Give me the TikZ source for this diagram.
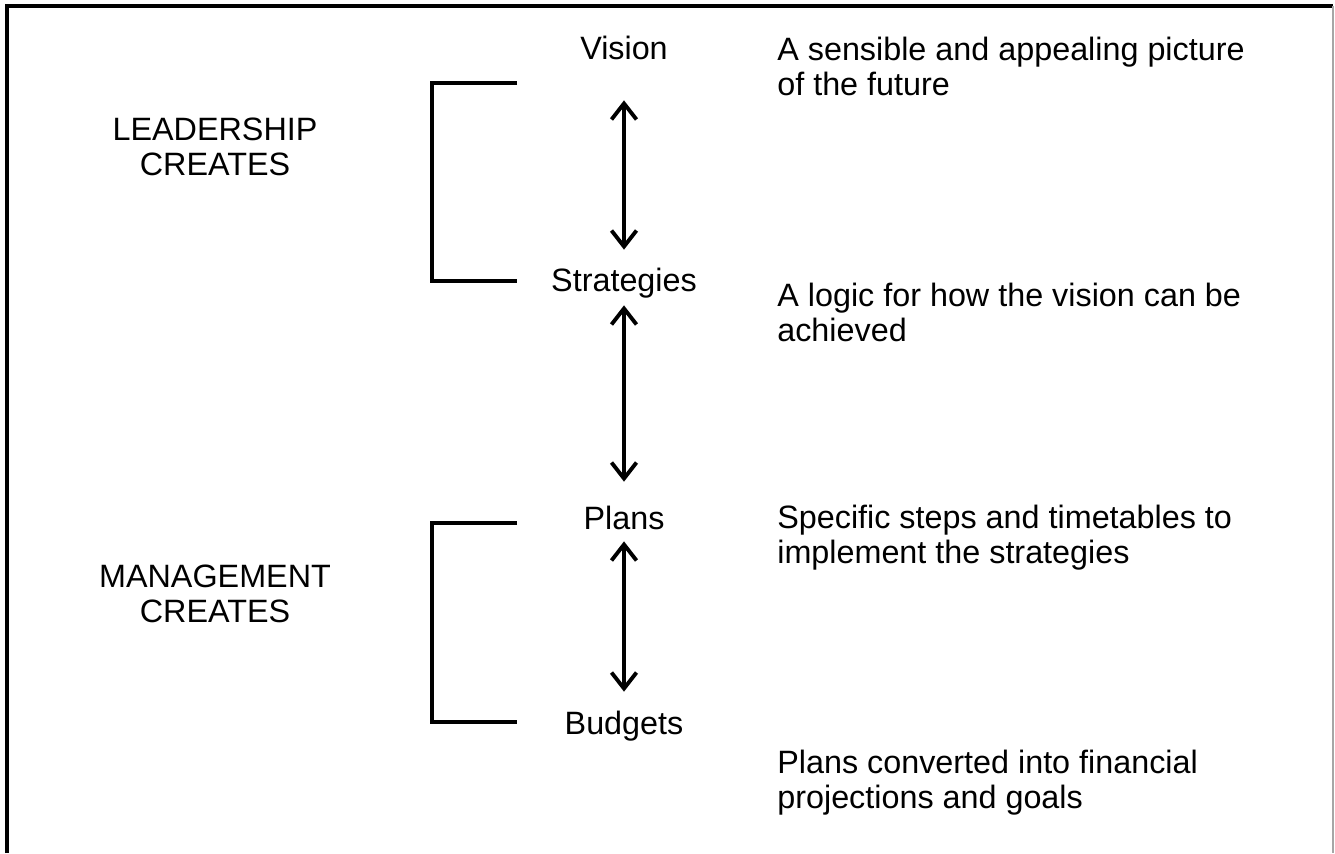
\documentclass[tikz,border=0pt]{standalone}
\usepackage{fontspec}
\setmainfont{Liberation Sans}
\usetikzlibrary{arrows.meta}
\begin{document}
\begin{tikzpicture}[x=0.02cm, y=-0.02cm,
    every node/.style={font=\fontsize{18.4}{19.9}\selectfont, inner sep=0pt},
    term/.style={text height=0.48cm, text depth=0.14cm},
    note/.style={anchor=west, align=left},
    bracket/.style={line width=2.2pt},
    link/.style={{Straight Barb[length=0.32cm,width=0.5cm]}-{Straight Barb[length=0.32cm,width=0.5cm]},
                 line width=2.2pt}]

    % Fix the page size
    \useasboundingbox (0,0) rectangle (1335,853);

    % Frame (top and left heavy, right thin)
    \draw[line width=2.2pt] (7,853) -- (7,6) -- (1333,6);
    \draw[black!35, line width=0.6pt] (1333,6) -- (1333,853);

    % The four terms in the middle column
    \node[term] (vision)     at (624,51)  {Vision};
    \node[term] (strategies) at (624,283) {Strategies};
    \node[term] (plans)      at (624,521) {Plans};
    \node[term] (budgets)    at (624,726) {Budgets};

    % Double arrows between the terms
    \draw[link, shorten <=0.67cm, shorten >=0.35cm] (vision) -- (strategies);
    \draw[link, shorten <=0.13cm, shorten >=0.47cm] (strategies) -- (plans);
    \draw[link, shorten <=0.09cm, shorten >=0.37cm] (plans) -- (budgets);

    % Brackets on the left
    \draw[bracket] (517,83) -| (432,281) -- (517,281);
    \draw[bracket] (517,523) -| (432,722) -- (517,722);

    % Who creates what
    \node[align=center] (lead) at (215,147) {LEADERSHIP\\CREATES};
    \node[align=center] (mgmt) at (215,594) {MANAGEMENT\\CREATES};

    % Descriptions on the right
    \node[note] (visiontxt) at (777,66)  {A sensible and appealing picture\\of the future};
    \node[note] (strattxt)  at (777,312) {A logic for how the vision can be\\achieved};
    \node[note] (planstxt)  at (777,538) {Specific steps and timetables to\\implement the strategies};
    \node[note] (budgettxt) at (777,783) {Plans converted into financial\\projections and goals};

\end{tikzpicture}
\end{document}
